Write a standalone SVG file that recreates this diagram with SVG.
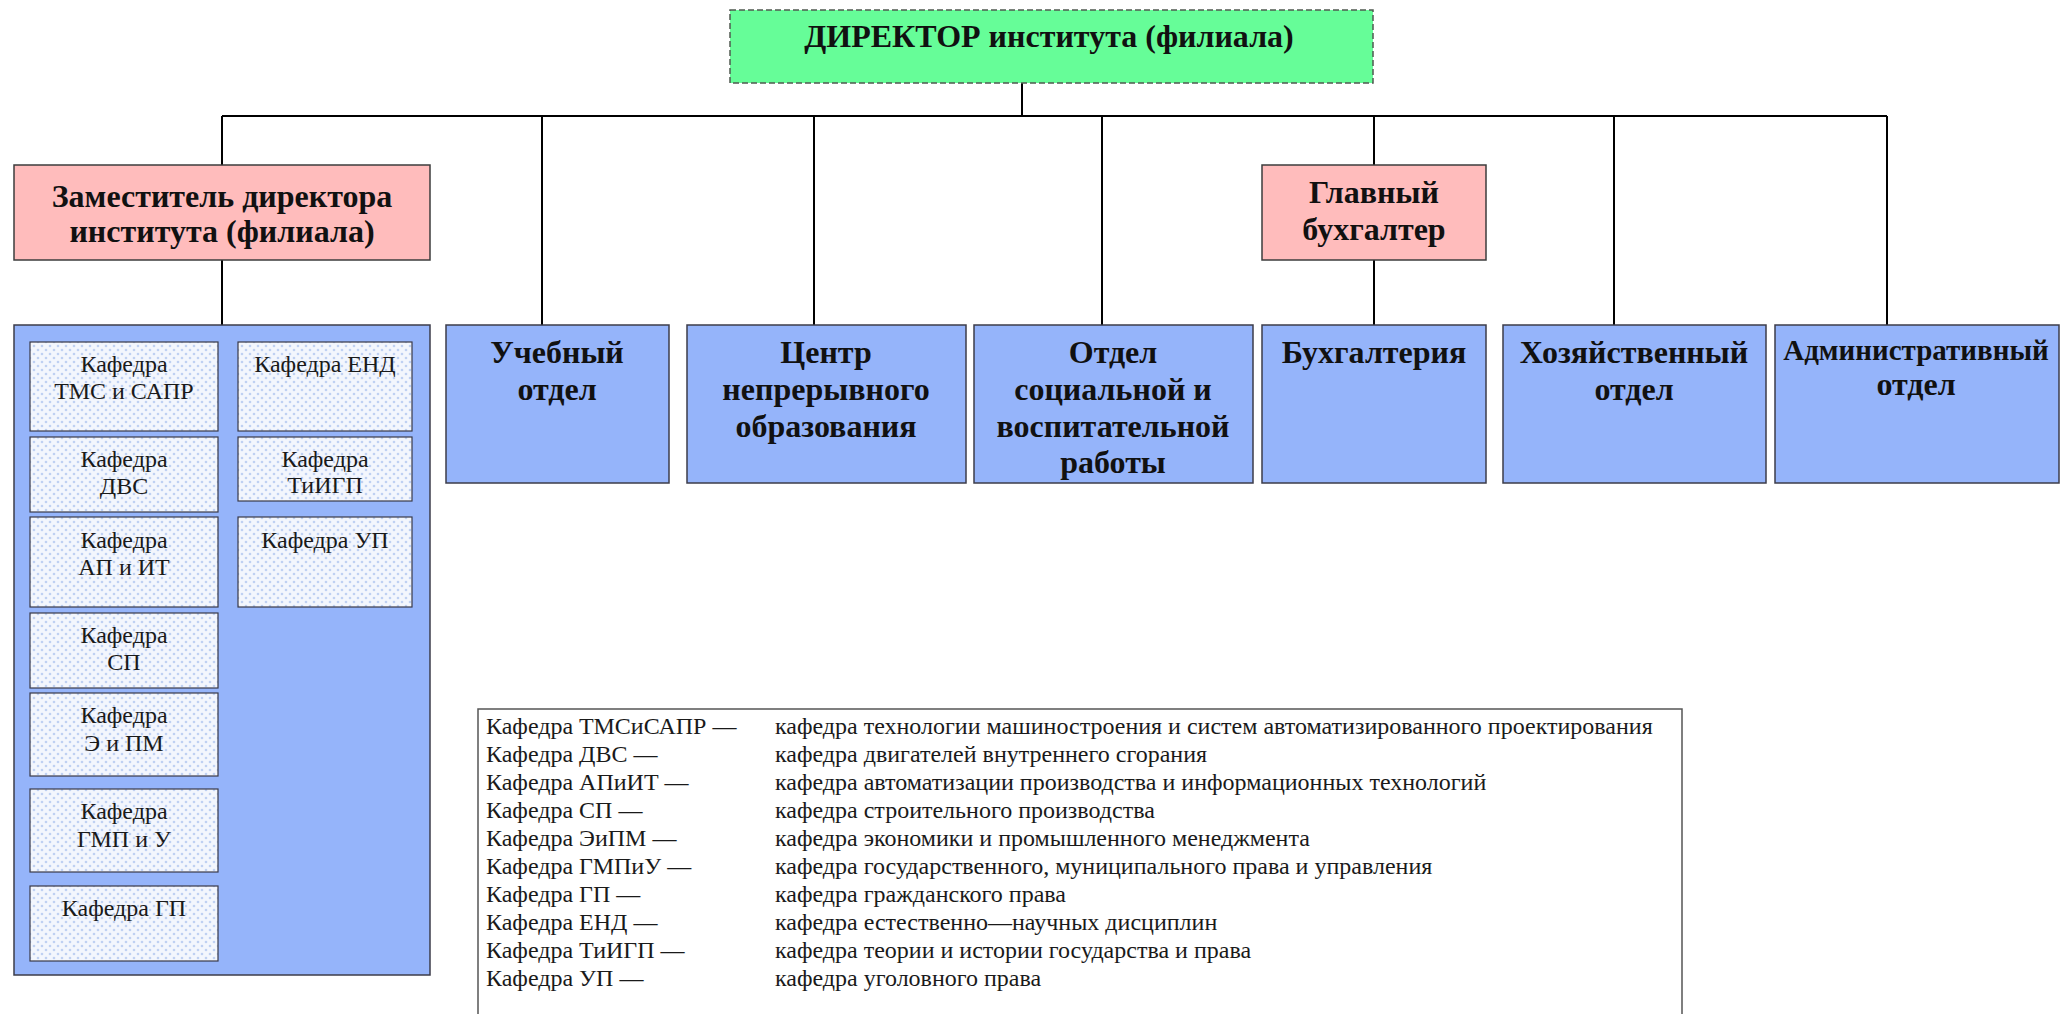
<svg xmlns="http://www.w3.org/2000/svg" width="2060" height="1014" viewBox="0 0 2060 1014">
<style>
.b{font-family:"Liberation Serif","Times New Roman",serif;font-weight:bold;font-size:32px;fill:#111;text-anchor:middle}
.k{font-family:"Liberation Serif","Times New Roman",serif;font-size:24px;fill:#1a1a1a;text-anchor:middle}
.l{font-family:"Liberation Serif","Times New Roman",serif;font-size:24px;fill:#1a1a1a}
.blue{fill:#95b4fa;stroke:#3c3c4a;stroke-width:1.5}
.pink{fill:#ffbcbc;stroke:#3c3c3c;stroke-width:1.5}
.kaf{fill:url(#dots);stroke:#3a3a48;stroke-width:1.2}
.con{stroke:#000;stroke-width:2;fill:none}
</style>
<defs>
<pattern id="dots" width="8" height="8" patternUnits="userSpaceOnUse">
<rect width="8" height="8" fill="#f3f6fd"/>
<circle cx="2" cy="2" r="1.3" fill="#bfd0f2"/>
<circle cx="6" cy="6" r="1.3" fill="#bfd0f2"/>
</pattern>
</defs>
<rect width="2060" height="1014" fill="#ffffff"/>

<g id="connectors">
<line class="con" x1="1022" y1="83" x2="1022" y2="116"/>
<line class="con" x1="222" y1="116" x2="1887" y2="116"/>
<line class="con" x1="222" y1="116" x2="222" y2="165"/>
<line class="con" x1="222" y1="260" x2="222" y2="325"/>
<line class="con" x1="542" y1="116" x2="542" y2="325"/>
<line class="con" x1="814" y1="116" x2="814" y2="325"/>
<line class="con" x1="1102" y1="116" x2="1102" y2="325"/>
<line class="con" x1="1374" y1="116" x2="1374" y2="165"/>
<line class="con" x1="1374" y1="260" x2="1374" y2="325"/>
<line class="con" x1="1614" y1="116" x2="1614" y2="325"/>
<line class="con" x1="1887" y1="116" x2="1887" y2="325"/>
</g>

<g id="director">
<rect x="730" y="10" width="643" height="73" fill="#66fd98" stroke="#505a50" stroke-width="1.5" stroke-dasharray="6,3"/>
<text class="b" x="1049" y="47">ДИРЕКТОР института (филиала)</text>
</g>

<g id="deputy">
<rect class="pink" x="14" y="165" width="416" height="95"/>
<text class="b" x="222" y="207">Заместитель директора</text>
<text class="b" x="222" y="242">института (филиала)</text>
</g>

<g id="chief-accountant">
<rect class="pink" x="1262" y="165" width="224" height="95"/>
<text class="b" x="1374" y="203">Главный</text>
<text class="b" x="1374" y="240">бухгалтер</text>
</g>

<g id="faculties">
<rect class="blue" x="14" y="325" width="416" height="650"/>
</g>

<g id="kaf-tms">
<rect class="kaf" x="30" y="342" width="188" height="89"/>
<text class="k" x="124" y="372">Кафедра</text>
<text class="k" x="124" y="399">ТМС и САПР</text>
</g>
<g id="kaf-dvs">
<rect class="kaf" x="30" y="437" width="188" height="75"/>
<text class="k" x="124" y="467">Кафедра</text>
<text class="k" x="124" y="494">ДВС</text>
</g>
<g id="kaf-apit">
<rect class="kaf" x="30" y="517" width="188" height="90"/>
<text class="k" x="124" y="548">Кафедра</text>
<text class="k" x="124" y="575">АП и ИТ</text>
</g>
<g id="kaf-sp">
<rect class="kaf" x="30" y="613" width="188" height="75"/>
<text class="k" x="124" y="643">Кафедра</text>
<text class="k" x="124" y="670">СП</text>
</g>
<g id="kaf-eipm">
<rect class="kaf" x="30" y="693" width="188" height="83"/>
<text class="k" x="124" y="723">Кафедра</text>
<text class="k" x="124" y="751">Э и ПМ</text>
</g>
<g id="kaf-gmpu">
<rect class="kaf" x="30" y="789" width="188" height="83"/>
<text class="k" x="124" y="819">Кафедра</text>
<text class="k" x="124" y="847">ГМП и У</text>
</g>
<g id="kaf-gp">
<rect class="kaf" x="30" y="886" width="188" height="75"/>
<text class="k" x="124" y="916">Кафедра ГП</text>
</g>
<g id="kaf-end">
<rect class="kaf" x="238" y="342" width="174" height="89"/>
<text class="k" x="325" y="372">Кафедра ЕНД</text>
</g>
<g id="kaf-tigp">
<rect class="kaf" x="238" y="437" width="174" height="64"/>
<text class="k" x="325" y="467">Кафедра</text>
<text class="k" x="325" y="493">ТиИГП</text>
</g>
<g id="kaf-up">
<rect class="kaf" x="238" y="517" width="174" height="90"/>
<text class="k" x="325" y="548">Кафедра УП</text>
</g>

<g id="uchebny">
<rect class="blue" x="446" y="325" width="223" height="158"/>
<text class="b" x="557" y="363">Учебный</text>
<text class="b" x="557" y="400">отдел</text>
</g>
<g id="centr">
<rect class="blue" x="687" y="325" width="279" height="158"/>
<text class="b" x="826" y="363">Центр</text>
<text class="b" x="826" y="400">непрерывного</text>
<text class="b" x="826" y="437">образования</text>
</g>
<g id="otdel-soc">
<rect class="blue" x="974" y="325" width="279" height="158"/>
<text class="b" x="1113" y="363">Отдел</text>
<text class="b" x="1113" y="400">социальной и</text>
<text class="b" x="1113" y="437">воспитательной</text>
<text class="b" x="1113" y="473">работы</text>
</g>
<g id="buh">
<rect class="blue" x="1262" y="325" width="224" height="158"/>
<text class="b" x="1374" y="363">Бухгалтерия</text>
</g>
<g id="hoz">
<rect class="blue" x="1503" y="325" width="263" height="158"/>
<text class="b" x="1634" y="363">Хозяйственный</text>
<text class="b" x="1634" y="400">отдел</text>
</g>
<g id="adm">
<rect class="blue" x="1775" y="325" width="284" height="158"/>
<text class="b" x="1916" y="360" style="font-size:29px">Административный</text>
<text class="b" x="1916" y="395">отдел</text>
</g>

<g id="legend">
<rect x="478" y="709" width="1204" height="310" fill="#ffffff" stroke="#555" stroke-width="1.5"/>
<text class="l" x="486" y="734">Кафедра ТМСиСАПР —</text>
<text class="l" x="486" y="762">Кафедра ДВС —</text>
<text class="l" x="486" y="790">Кафедра АПиИТ —</text>
<text class="l" x="486" y="818">Кафедра СП —</text>
<text class="l" x="486" y="846">Кафедра ЭиПМ —</text>
<text class="l" x="486" y="874">Кафедра ГМПиУ —</text>
<text class="l" x="486" y="902">Кафедра ГП —</text>
<text class="l" x="486" y="930">Кафедра ЕНД —</text>
<text class="l" x="486" y="958">Кафедра ТиИГП —</text>
<text class="l" x="486" y="986">Кафедра УП —</text>
<text class="l" x="775" y="734">кафедра технологии машиностроения и систем автоматизированного проектирования</text>
<text class="l" x="775" y="762">кафедра двигателей внутреннего сгорания</text>
<text class="l" x="775" y="790">кафедра автоматизации производства и информационных технологий</text>
<text class="l" x="775" y="818">кафедра строительного производства</text>
<text class="l" x="775" y="846">кафедра экономики и промышленного менеджмента</text>
<text class="l" x="775" y="874">кафедра государственного, муниципального права и управления</text>
<text class="l" x="775" y="902">кафедра гражданского права</text>
<text class="l" x="775" y="930">кафедра естественно—научных дисциплин</text>
<text class="l" x="775" y="958">кафедра теории и истории государства и права</text>
<text class="l" x="775" y="986">кафедра уголовного права</text>
</g>
</svg>
